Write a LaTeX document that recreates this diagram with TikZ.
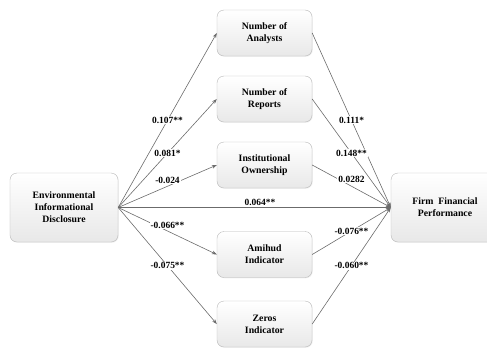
\documentclass[tikz,border=0pt]{standalone}
\usepackage{fontspec}
\setmainfont{Liberation Serif}
\usepackage{tikz}
\usetikzlibrary{arrows.meta,shadings,shadows}

\begin{document}
\begin{tikzpicture}[
  x=1bp, y=-1bp,
  font=\fontsize{9.8}{12}\selectfont\bfseries,
  varbox/.style={draw=black!28, top color=white, bottom color=black!9,
    rounded corners=7pt, align=center, minimum width=95bp, minimum height=46bp,
    drop shadow={opacity=0.12, shadow xshift=0.8pt, shadow yshift=-0.8pt}},
  endbox/.style={varbox, minimum width=108bp, minimum height=69bp},
  coef/.style={fill=white, inner sep=1pt, font=\fontsize{9.5}{11}\selectfont\bfseries},
  flow/.style={-{Stealth[length=5pt,width=3.6pt]}, line width=0.6pt, draw=black!58}
]
  \useasboundingbox (0,0) rectangle (487,349);

  \node[endbox] (disclosure) at (64,207.5) {Environmental\\Informational\\Disclosure};
  \node[endbox] (performance) at (445,207.5) {Firm~~Financial\\Performance};

  \node[varbox] (analysts) at (264.5,33) {Number of\\Analysts};
  \node[varbox] (reports) at (264.5,99) {Number of\\Reports};
  \node[varbox] (ownership) at (264.5,165) {Institutional\\Ownership};
  \node[varbox] (amihud) at (264.5,254.5) {Amihud\\Indicator};
  \node[varbox] (zeros) at (264.5,324) {Zeros\\Indicator};

  % disclosure -> mediators
  \draw[flow] (disclosure.east) -- node[coef] {0.107**} (analysts.west);
  \draw[flow] (disclosure.east) -- node[coef] {0.081*} (reports.west);
  \draw[flow] (disclosure.east) -- node[coef, yshift=6bp] {-0.024} (ownership.west);
  \draw[flow] (disclosure.east) -- node[coef, yshift=6bp] {-0.066**} (amihud.west);
  \draw[flow] (disclosure.east) -- node[coef] {-0.075**} (zeros.west);

  % direct path
  \draw[flow] (disclosure.east) -- node[above, pos=0.52, inner sep=2pt,
    font=\fontsize{9.5}{11}\selectfont\bfseries] {0.064**} (performance.west);

  % mediators -> performance
  \draw[flow] (analysts.east) -- node[coef] {0.111*} (performance.west);
  \draw[flow] (reports.east) -- node[coef] {0.148**} (performance.west);
  \draw[flow] (ownership.east) -- node[coef, yshift=7bp] {0.0282} (performance.west);
  \draw[flow] (amihud.east) -- node[coef] {-0.076**} (performance.west);
  \draw[flow] (zeros.east) -- node[coef] {-0.060**} (performance.west);
\end{tikzpicture}
\end{document}
